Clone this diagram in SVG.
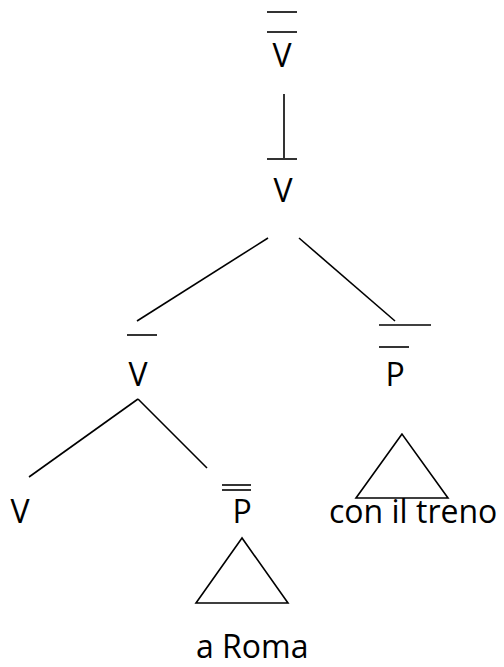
<svg xmlns="http://www.w3.org/2000/svg" width="504" height="667" viewBox="0 0 504 667">
<style>
text{font-family:"Open Sans","Liberation Sans",sans-serif;font-size:32px;fill:#000}
.c{text-anchor:middle}
line,polygon{stroke:#000;stroke-width:1.6;fill:none}
</style>
<rect width="504" height="667" fill="#fff"/>
<g id="n-vbar2">
<line x1="267" y1="12" x2="297" y2="12"/>
<line x1="267" y1="32" x2="297" y2="32"/>
<text class="c" x="282" y="67">V</text>
</g>
<g id="n-vbar1">
<line x1="267" y1="159" x2="297" y2="159"/>
<text class="c" x="283" y="202">V</text>
</g>
<g id="n-vbar">
<line x1="127" y1="335" x2="157" y2="335"/>
<text class="c" x="138" y="386">V</text>
</g>
<g id="n-pbar">
<line x1="379" y1="325" x2="431" y2="325"/>
<line x1="379" y1="347" x2="409" y2="347"/>
<text class="c" x="395" y="386">P</text>
</g>
<g id="n-v">
<text class="c" x="20" y="523">V</text>
</g>
<g id="n-pdbar">
<line x1="222" y1="485" x2="251" y2="485"/>
<line x1="222" y1="490" x2="251" y2="490"/>
<text class="c" x="242" y="523">P</text>
</g>
<g id="n-treno">
<polygon points="402,434 356,498 448,498"/>
<text x="329" y="523">con il treno</text>
</g>
<g id="n-roma">
<polygon points="242,538 196,603 288,603"/>
<text x="196" y="658">a Roma</text>
</g>
<g id="connectors">
<line x1="284" y1="94" x2="284" y2="158"/>
<line x1="268" y1="238" x2="137" y2="321"/>
<line x1="299" y1="238" x2="395" y2="321"/>
<line x1="138" y1="399" x2="29" y2="477"/>
<line x1="138" y1="399" x2="207" y2="468"/>
</g>
</svg>
